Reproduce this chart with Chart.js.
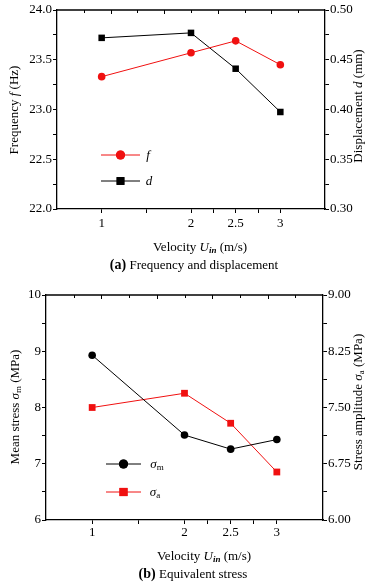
<!DOCTYPE html>
<html>
<head>
<meta charset="utf-8">
<script src="https://cdn.jsdelivr.net/npm/chart.js@4.4.1/dist/chart.umd.min.js"></script>
<style>
  html, body { margin: 0; padding: 0; background: #fff; }
  body { width: 379px; height: 585px; overflow: hidden; position: relative; }
  canvas { position: absolute; left: 0; display: block; }
</style>
</head>
<body>
<canvas id="ca" width="379" height="285" style="top:0"></canvas>
<canvas id="cb" width="379" height="300" style="top:285px"></canvas>
<script>
// ---------- data ----------
const velocities = [1, 2, 2.5, 3];                 // inlet velocity U_in (m/s)
const frequency = [23.33, 23.57, 23.69, 23.45];    // f (Hz)
const displacement = [0.472, 0.477, 0.441, 0.3975];// d (mm)
const meanStress = [8.93, 7.51, 7.26, 7.43];       // sigma_m (MPa)
const stressAmplitude = [7.50, 7.69, 7.29, 6.64];  // sigma_a (MPa)
const xTickValues = [1, 1.5, 2, 2.25, 2.5, 2.75, 3];
const xTickLabels = ['1', '', '2', '', '2.5', '', '3'];
const topTickValues = [0.8, 1.1, 1.4, 1.7, 2.0, 2.3, 2.6, 2.9, 3.2];

// ---------- styles ----------
const FONT = "'Liberation Serif', 'Times New Roman', serif";
const RED = '#f01010';
const BLACK = '#000000';

function pts(ys) { return velocities.map((v, i) => ({ x: v, y: ys[i] })); }

function drawRich(ctx, segs, x, y, rot) {
  ctx.save();
  ctx.translate(x, y);
  ctx.rotate(rot || 0);
  ctx.textBaseline = 'alphabetic';
  ctx.textAlign = 'left';
  let w = 0;
  segs.forEach(s => { ctx.font = s.font; s.w = ctx.measureText(s.text).width; w += s.w; });
  let cx = -w / 2;
  segs.forEach(s => {
    ctx.font = s.font;
    ctx.fillStyle = s.color || BLACK;
    ctx.fillText(s.text, cx, s.dy || 0);
    cx += s.w;
  });
  ctx.restore();
}

const R13 = '13px ' + FONT, I13 = 'italic 13px ' + FONT;

function isMultiple(v, step) { return Math.abs(v / step - Math.round(v / step)) < 1e-6; }

function makeOptions(cfg) {
  const tickFont = { family: FONT, size: 13 };
  return {
    responsive: false,
    animation: false,
    events: [],
    layout: { padding: { top: 10, left: 0, right: 0, bottom: 0 } },
    plugins: { legend: { display: false }, tooltip: { enabled: false } },
    elements: { line: { tension: 0 } },
    scales: {
      x: {
        type: 'linear', position: 'bottom', min: 0.5, max: 3.5,
        afterBuildTicks: s => { s.ticks = xTickValues.map(v => ({ value: v })); },
        afterFit: s => { s.height = cfg.xHeight; },
        ticks: { autoSkip: false, maxRotation: 0, padding: cfg.xPad, color: BLACK, font: tickFont,
                 callback: (v) => { const i = xTickValues.indexOf(v); return i >= 0 ? xTickLabels[i] : ''; } },
        grid: { drawOnChartArea: false, drawTicks: true, tickLength: 4, tickColor: BLACK, tickWidth: 1 },
        border: { color: BLACK, width: 1.3 }
      },
      y: {
        type: 'linear', position: 'left', min: cfg.yl.min, max: cfg.yl.max,
        afterFit: s => { s.width = cfg.leftW; },
        ticks: { stepSize: cfg.yl.minor, autoSkip: false, padding: 1, color: BLACK, font: tickFont,
                 callback: v => isMultiple(v - cfg.yl.min, cfg.yl.major) ? v.toFixed(cfg.yl.dec) : '' },
        grid: { drawOnChartArea: false, drawTicks: true, tickLength: 4, tickColor: BLACK, tickWidth: 1 },
        border: { color: BLACK, width: 1.3 }
      },
      y1: {
        type: 'linear', position: 'right', min: cfg.yr.min, max: cfg.yr.max,
        afterFit: s => { s.width = cfg.rightW; },
        ticks: { stepSize: cfg.yr.minor, autoSkip: false, padding: 1, color: BLACK, font: tickFont,
                 callback: v => isMultiple(v - cfg.yr.min, cfg.yr.major) ? v.toFixed(cfg.yr.dec) : '' },
        grid: { drawOnChartArea: false, drawTicks: true, tickLength: 4, tickColor: BLACK, tickWidth: 1 },
        border: { color: BLACK, width: 1.3 }
      }
    }
  };
}

// frame top line + inward top ticks, titles, legend
function decorPlugin(cfg) {
  return {
    id: 'decor',
    afterDraw(chart) {
      const ctx = chart.ctx, a = chart.chartArea, xs = chart.scales.x;
      ctx.save();
      ctx.strokeStyle = BLACK;
      ctx.lineWidth = 1.3;
      ctx.beginPath();
      ctx.moveTo(a.left, a.top); ctx.lineTo(a.right, a.top);
      ctx.stroke();
      ctx.lineWidth = 1;
      topTickValues.forEach((v, i) => {
        const px = Math.round(xs.getPixelForValue(v)) + 0.5;
        ctx.beginPath();
        ctx.moveTo(px, a.top);
        ctx.lineTo(px, a.top + (i % 2 === 1 ? 4 : 3));
        ctx.stroke();
      });
      ctx.restore();
      // titles
      cfg.texts.forEach(t => drawRich(ctx, t.segs, t.x, t.y, t.rot));
      // legend
      cfg.legend.forEach(l => {
        const ds = chart.data.datasets[l.ds];
        ctx.save();
        ctx.strokeStyle = ds.borderColor;
        ctx.lineWidth = 1;
        ctx.beginPath();
        ctx.moveTo(l.x1, l.y); ctx.lineTo(l.x2, l.y);
        ctx.stroke();
        ctx.fillStyle = ds.backgroundColor;
        Chart.helpers.drawPoint(ctx, { pointStyle: ds.pointStyle, radius: ds.pointRadius * 1.2, borderWidth: 0 }, (l.x1 + l.x2) / 2, l.y);
        ctx.fill();
        ctx.restore();
        drawRich(ctx, l.segs, l.tx, l.y + 4, 0);
      });
    }
  };
}

// ---------- chart (a) ----------
const cfgA = {
  xHeight: 76, leftW: 57, rightW: 54, xPad: 3,
  yl: { min: 22, max: 24, minor: 0.25, major: 0.5, dec: 1 },
  yr: { min: 0.30, max: 0.50, minor: 0.025, major: 0.05, dec: 2 },
  texts: [
    { x: 18, y: 110, rot: -Math.PI / 2, segs: [
      { text: 'Frequency ', font: R13 }, { text: 'f', font: I13 }, { text: ' (Hz)', font: R13 } ] },
    { x: 362, y: 106, rot: -Math.PI / 2, segs: [
      { text: 'Displacement ', font: R13 }, { text: 'd', font: I13 }, { text: ' (mm)', font: R13 } ] },
    { x: 200, y: 251, segs: [
      { text: 'Velocity ', font: R13 }, { text: 'U', font: I13 },
      { text: 'in', font: 'italic bold 9px ' + FONT, dy: 2 }, { text: ' (m/s)', font: R13 } ] },
    { x: 194, y: 269, segs: [
      { text: '(a)', font: 'bold 14px ' + FONT }, { text: ' Frequency and displacement', font: R13 } ] }
  ],
  legend: [
    { ds: 0, x1: 101, x2: 140, y: 155, tx: 148, segs: [{ text: 'f', font: I13 }] },
    { ds: 1, x1: 101, x2: 140, y: 181, tx: 149, segs: [{ text: 'd', font: I13 }] }
  ]
};

new Chart(document.getElementById('ca'), {
  type: 'line',
  data: {
    datasets: [
      { label: 'f', data: pts(frequency), yAxisID: 'y', borderColor: RED, backgroundColor: RED,
        borderWidth: 1, pointStyle: 'circle', pointRadius: 3.8, pointBorderWidth: 0 },
      { label: 'd', data: pts(displacement), yAxisID: 'y1', borderColor: BLACK, backgroundColor: BLACK,
        borderWidth: 1, pointStyle: 'rect', pointRadius: 4.6, pointBorderWidth: 0 }
    ]
  },
  options: makeOptions(cfgA),
  plugins: [decorPlugin(cfgA)]
});

// ---------- chart (b) ----------
const cfgB = {
  xHeight: 65, leftW: 46, rightW: 56, xPad: 1,
  yl: { min: 6, max: 10, minor: 0.5, major: 1, dec: 0 },
  yr: { min: 6, max: 9, minor: 0.375, major: 0.75, dec: 2 },
  texts: [
    { x: 19, y: 122, rot: -Math.PI / 2, segs: [
      { text: 'Mean stress ', font: R13 }, { text: 'σ', font: I13 },
      { text: 'm', font: '9px ' + FONT, dy: 2 }, { text: ' (MPa)', font: R13 } ] },
    { x: 362, y: 117, rot: -Math.PI / 2, segs: [
      { text: 'Stress amplitude ', font: R13 }, { text: 'σ', font: I13 },
      { text: 'a', font: '9px ' + FONT, dy: 2 }, { text: ' (MPa)', font: R13 } ] },
    { x: 204, y: 275, segs: [
      { text: 'Velocity ', font: R13 }, { text: 'U', font: I13 },
      { text: 'in', font: 'italic bold 9px ' + FONT, dy: 2 }, { text: ' (m/s)', font: R13 } ] },
    { x: 193, y: 293, segs: [
      { text: '(b)', font: 'bold 14px ' + FONT }, { text: ' Equivalent stress', font: R13 } ] }
  ],
  legend: [
    { ds: 0, x1: 106, x2: 141, y: 179, tx: 157, segs: [
      { text: 'σ', font: I13 }, { text: 'm', font: '9px ' + FONT, dy: 2 } ] },
    { ds: 1, x1: 106, x2: 141, y: 207, tx: 155, segs: [
      { text: 'σ', font: I13 }, { text: 'a', font: '9px ' + FONT, dy: 2 } ] }
  ]
};

new Chart(document.getElementById('cb'), {
  type: 'line',
  data: {
    datasets: [
      { label: 'σm', data: pts(meanStress), yAxisID: 'y', borderColor: BLACK, backgroundColor: BLACK,
        borderWidth: 1, pointStyle: 'circle', pointRadius: 3.8, pointBorderWidth: 0 },
      { label: 'σa', data: pts(stressAmplitude), yAxisID: 'y1', borderColor: RED, backgroundColor: RED,
        borderWidth: 1, pointStyle: 'rect', pointRadius: 4.8, pointBorderWidth: 0 }
    ]
  },
  options: makeOptions(cfgB),
  plugins: [decorPlugin(cfgB)]
});
</script>
</body>
</html>
